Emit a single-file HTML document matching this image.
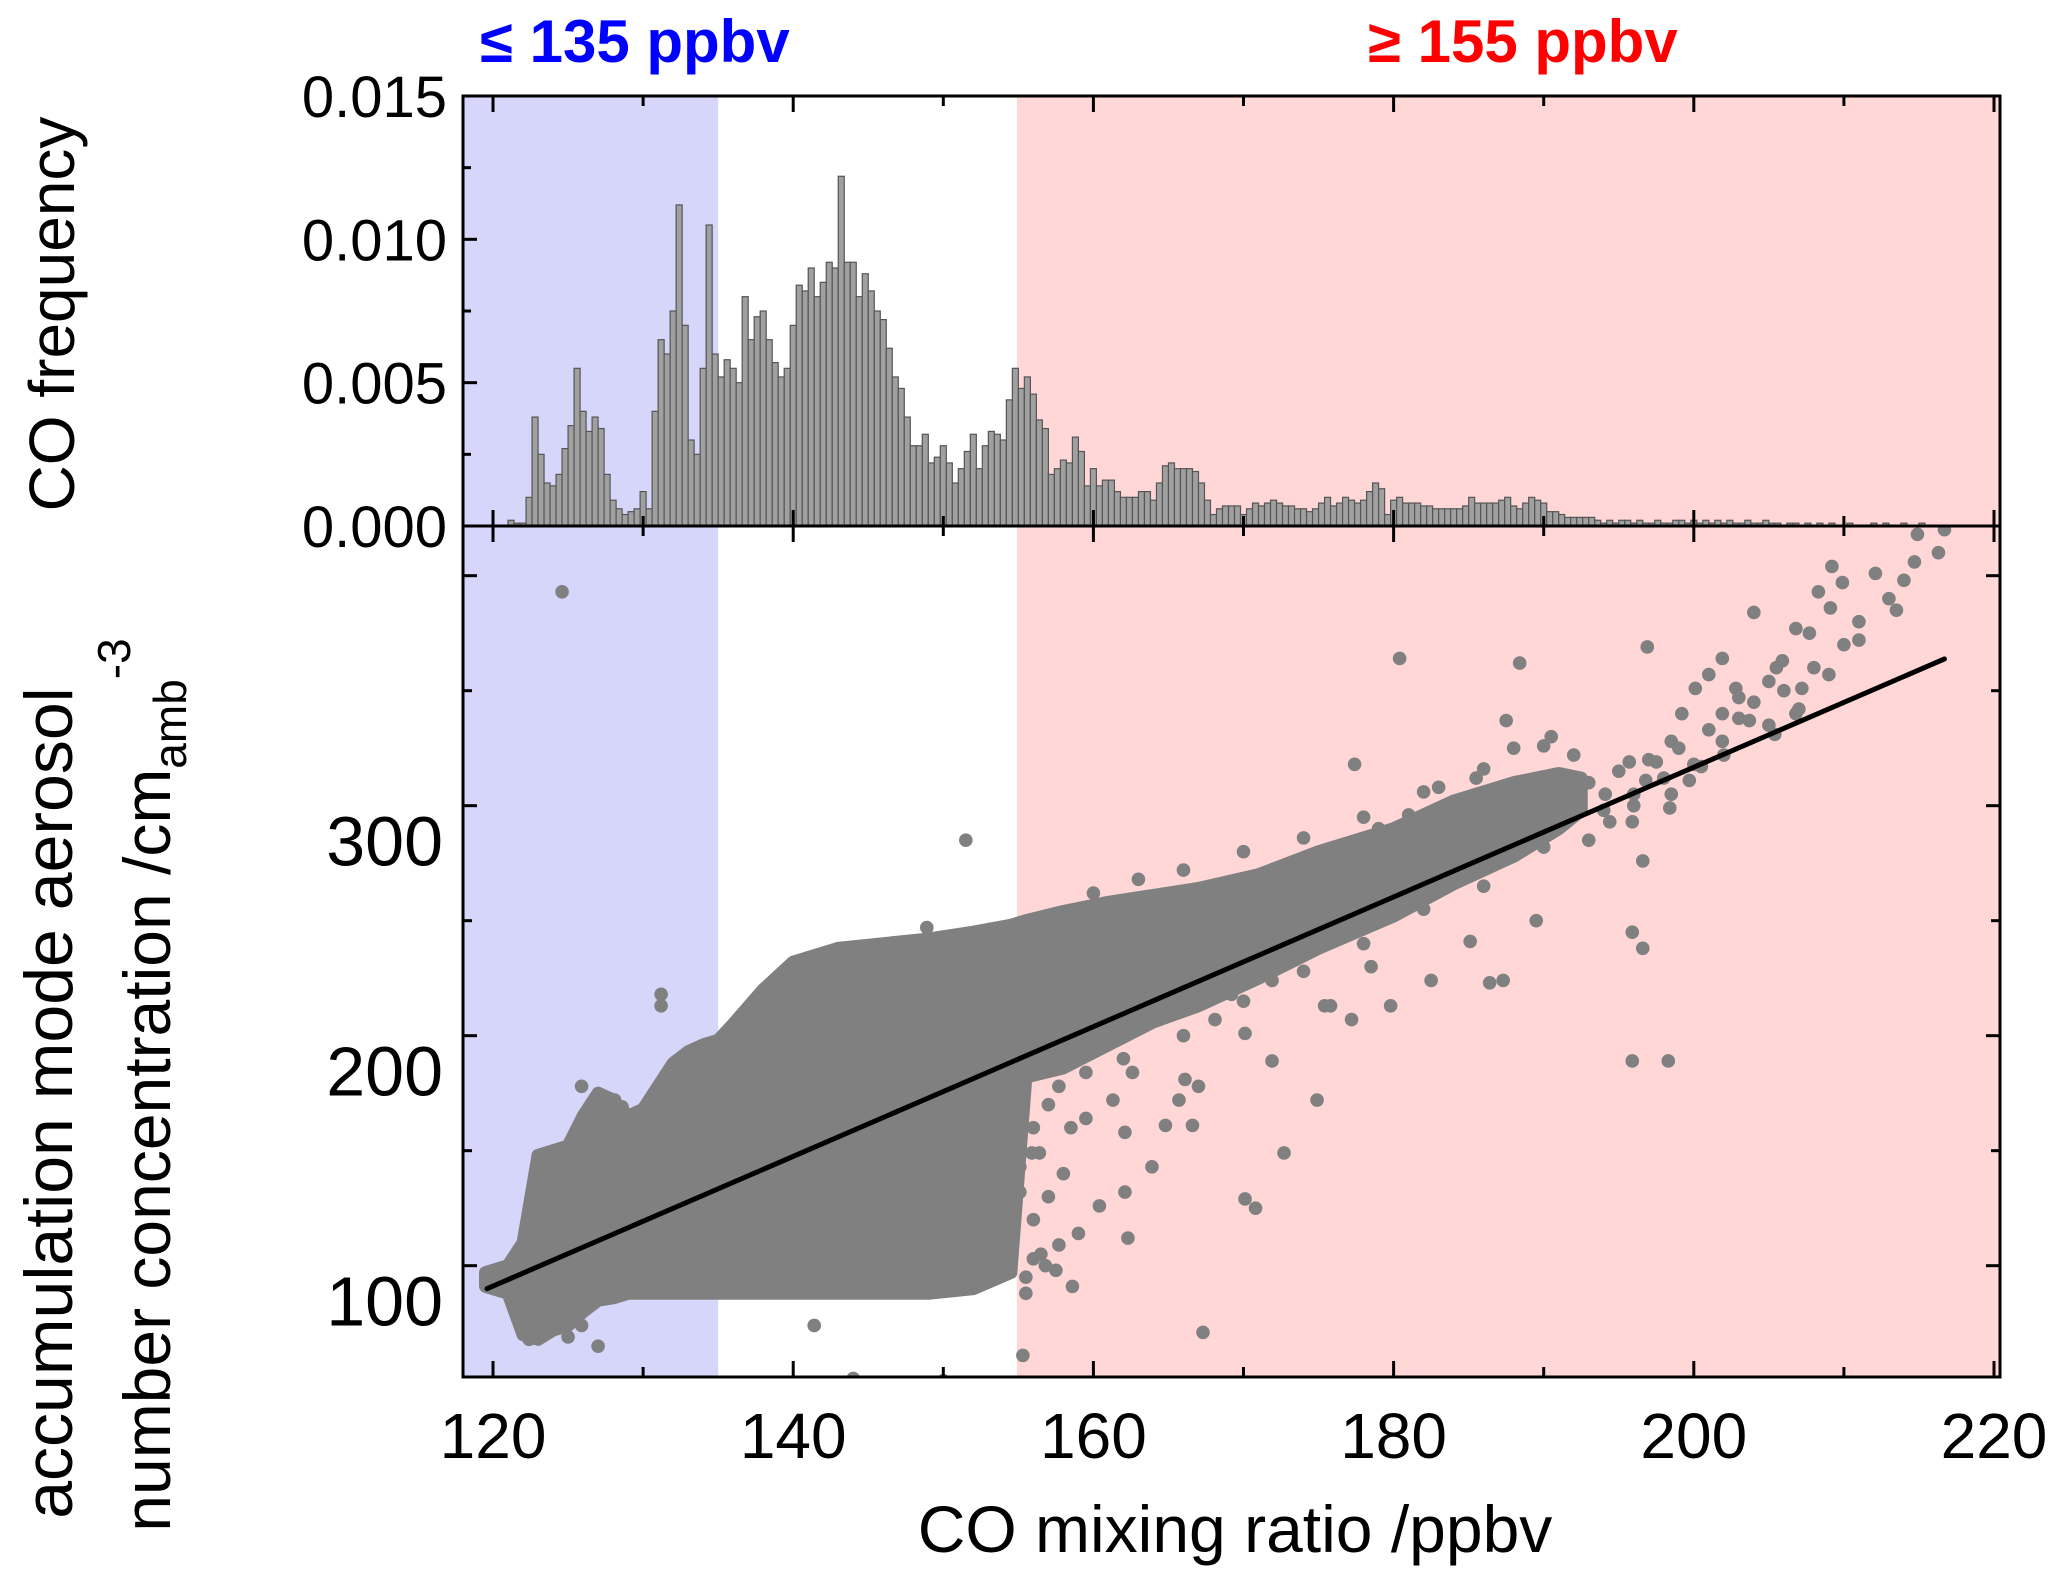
<!DOCTYPE html>
<html><head><meta charset="utf-8"><style>
html,body{margin:0;padding:0;background:#fff;}
svg{display:block;font-family:"Liberation Sans",Arial,sans-serif;}
</style></head><body>
<div style="position:relative;width:2067px;height:1575px">
<svg id="chart" width="2067" height="1575" viewBox="0 0 2067 1575" xmlns="http://www.w3.org/2000/svg" style="position:absolute;left:0;top:0">
<g id="bg"></g><g id="hist"></g><g id="scatter"></g><g id="axes"></g><g id="labels"></g>
</svg>
<svg width="2067" height="1575" style="position:absolute;left:0;top:0" font-family="Liberation Sans, Arial, sans-serif">
  <text x="480" y="62" font-size="60" font-weight="bold" fill="#0000ff">≤ 135 ppbv</text>
  <text x="1368" y="62" font-size="60" font-weight="bold" fill="#ff0000">≥ 155 ppbv</text>
  <text x="1235" y="1552" font-size="66" text-anchor="middle">CO mixing ratio /ppbv</text>
  <text transform="translate(74,314) rotate(-90)" font-size="64" text-anchor="middle">CO frequency</text>
  <text transform="translate(72,1103) rotate(-90)" font-size="68" text-anchor="middle">accumulation mode aerosol</text>
  <text transform="translate(170,1085) rotate(-90)" font-size="66" text-anchor="middle">number concentration /cm<tspan font-size="46" dy="16">amb</tspan><tspan font-size="46" dy="-56">-3</tspan></text>
</svg>
</div>
<script>
// ---- data ----
const histStart = 121.0;
const histBinWidth = 0.4;
const histValues = [ // units of 1e-4
2,1,1,10,38,25,15,14,18,27,35,55,40,33,38,34,18,9,6,4,5,6,12,6,40,65,60,75,112,70,30,25,55,105,60,52,58,55,50,80,65,73,75,65,57,52,55,70,84,82,90,80,85,92,90,122,92,92,80,88,82,75,72,62,52,48,38,28,28,32,22,24,28,22,15,20,26,32,20,28,33,32,
30,44,55,48,52,46,37,34,18,20,23,22,31,26,14,20,14,16,16,12,10,10,10,12,12,9,15,21,22,20,20,20,19,15,9,4,6,7,7,7,4,6,8,7,8,9,8,7,7,6,6,5,6,8,10,7,8,10,9,8,9,12,15,13,4,9,10,8,8,8,7,7,6,6,6,6,6,7,10,8,8,8,8,9,10,7,6,8,10,9,8,5,5,4,3,3,3,3,3,2,1,2,1,2,2,1,2,1,1,2,1,1,2,2,1,2,1,2,1,2,1,2,1,1,2,1,1,2,1,1,0,1,1,0,1,0,1,0,1,0,0,1,0,0,0,1,0,1,0,0,1,0,0,1,0,0];
const histTicks = [0, 0.005, 0.010, 0.015];
const histTickLabels = ["0.000","0.005","0.010","0.015"];
const xTicks = [120,140,160,180,200,220];
const yTicks = [100,200,300];
const envX    = [119.5,121,122,123,124,125,126,127,128,129,130,131,132,133,134,135,136,138,140,143,146,149,152,154.5,155.5,158,161,164,167,171,175,180,184,188,191,192.5];
const envHigh = [97,100,110,148,150,152,165,175,172,165,168,178,188,193,196,198,205,220,232,238,240,242,245,248,250,254,258,261,264,270,280,290,302,310,314,312];
const envLow  = [91,88,70,68,72,74,80,85,86,88,88,88,88,88,88,88,88,88,88,88,88,88,90,97,182,186,196,206,213,225,238,252,266,278,290,298];
const ptsX = [124.6,151.5,141.4,144,150,155.3,167.3,195.9,196.6,195.9,198.3,196.9,180.4,188.4,177.4,187.5,204,209.2,212.1,214.7,216.3,216.7,214.9,209.9,209.1,207.7,206.8,208.3,201.9,201,200.1,202.8,205,205.9,207.2,201.9,203.7,205.4,206.8,199.2,198.5,197.5,195.7,196.8,200.5,198.5,194.1,209,201.9,199.7,194.4,193,196.6,198.4,195.9,
175.4,174,171.9,170.1,178.5,177.2,175.8,179.8,182.5,185.1,187.3,186.4,189.5,174.9,172.7,170.1,170.8,166.6,165.7,164.8,163.9,167,166.1,162.1,162.3,160.4,159,157.7,155.9,156.8,158.6,162.1,161.3,159.5,162.6,170.1,168.1,169.2,171.9,175.4,155.5,154.2,155.1,155.1,156.4,157.7,159.5,
150.7,149,152,154.2,148,147.1,144.9,148.9,131.2,131.2,125.9,128.1,128.6,133.9,134.8,136.1,137,138.7,125,122.4,127,125.9,156,196,192,190.5,188,185.5,183,181,179,177,211,213.5,203,205.5,
192,193,194,195,196,197,198,199,200,201,202,203,204,205,206,207,208,210,211,213,214,
155.5,156,156.5,157,157.5,158,156,157,158.5,
160,163,166,170,174,178,182,186,190,162,166,170,174,178,182,186,190];
const ptsY = [393,285,74,51,50,61,71,245,238,189,189,369,364,362,318,337,384,404,401,406,410,420,418,397,386,375,377,393,364,357,351,351,354,363,351,340,337,331,340,340,328,319,319,311,317,305,305,357,328,311,293,285,276,299,293,
259,236,224,233,230,207,213,213,224,241,224,223,250,172,149,129,125,161,172,161,143,178,181,132,112,126,114,109,149,100,91,158,172,184,184,201,207,218,189,213,88,103,132,143,149,178,164,
239,236,233,239,236,230,233,247,218,213,178,172,169,190,192,184,195,201,69,68,65,74,103,300,322,330,325,312,308,296,290,282,372,385,347,360,
300,310,298,315,305,320,312,325,318,333,322,338,345,335,350,342,360,370,380,390,398,
95,120,105,130,98,140,160,170,160,
262,268,272,280,286,295,306,316,326,190,200,215,228,240,255,265,282];
const fitX = [119.6, 216.7];
const fitY = [90, 363.8];

// ---- layout ----
const L=463, R=2000, T=96, M=526, B=1377;
const xMin=118, xMax=220.4;
const sx = v => L + (v - xMin)/(xMax - xMin)*(R-L);
const hy = v => M - v/0.015*(M-T);
const yMin=51.6, yMax=421.6;
const sy = v => B - (v - yMin)/(yMax - yMin)*(B-M);
const NS="http://www.w3.org/2000/svg";
function mk(tag, attrs, parent){const e=document.createElementNS(NS,tag);for(const k in attrs)e.setAttribute(k,attrs[k]);parent.appendChild(e);return e;}

// ---- background regions ----
const bg=document.getElementById('bg');
let r1=mk('rect',{x:L,y:T,width:sx(135)-L,height:B-T,fill:'#d6d6fa'},bg);


let r2=mk('rect',{x:sx(154.9),y:T,width:R-sx(154.9),height:B-T,fill:'#ffd7d7'},bg);



// ---- histogram ----
const hg=document.getElementById('hist');
histValues.forEach((v,i)=>{
  const x0=sx(histStart+i*histBinWidth), x1=sx(histStart+(i+1)*histBinWidth);
  const y=hy(v*1e-4);
  const b=mk('rect',{x:x0,y:y,width:Math.max(x1-x0,0.5),height:M-y,fill:'#a0a0a0',stroke:'#555','stroke-width':1.2},hg);
  
  
});

// ---- scatter ----
const sg=document.getElementById('scatter');
const clip=mk('clipPath',{id:'bclip'},sg);
mk('rect',{x:L,y:M,width:R-L,height:B-M},clip);
const sgi=mk('g',{'clip-path':'url(#bclip)'},sg);
let d='M'+envX.map((x,i)=>sx(x)+','+sy(envHigh[i])).join(' L');
for(let i=envX.length-1;i>=0;i--) d+=' L'+sx(envX[i])+','+sy(envLow[i]);
d+=' Z';
const env=mk('path',{d:d,fill:'#808080',stroke:'#808080','stroke-width':13,'stroke-linejoin':'round'},sgi);


ptsX.forEach((x,i)=>{
  const c=mk('circle',{cx:sx(x),cy:sy(ptsY[i]),r:6.8,fill:'#808080'},sgi);
  
  
});
const fl=mk('line',{x1:sx(fitX[0]),y1:sy(fitY[0]),x2:sx(fitX[1]),y2:sy(fitY[1]),stroke:'#000','stroke-width':5,'stroke-linecap':'round'},sg);



// ---- axes ----
const ax=document.getElementById('axes');
const fr1=mk('rect',{x:L,y:T,width:R-L,height:M-T,fill:'none',stroke:'#000','stroke-width':3},ax);


const fr2=mk('rect',{x:L,y:M,width:R-L,height:B-M,fill:'none',stroke:'#000','stroke-width':3},ax);


const lb=document.getElementById('labels');
function txt(s,x,y,size,anchor){const t=mk('text',{x:x,y:y,'font-size':size,'text-anchor':anchor,fill:'#000'},lb);t.textContent=s;return t;}
for(let v=120; v<=220; v+=10){
  const major = v%20===0;
  const len = major?16:10;
  const x=sx(v);
  mk('line',{x1:x,y1:B,x2:x,y2:B-len,stroke:'#000','stroke-width':3},ax);
  mk('line',{x1:x,y1:M,x2:x,y2:M+len,stroke:'#000','stroke-width':3},ax);
  mk('line',{x1:x,y1:M,x2:x,y2:M-len,stroke:'#000','stroke-width':3},ax);
  mk('line',{x1:x,y1:T,x2:x,y2:T+len,stroke:'#000','stroke-width':3},ax);
}
xTicks.forEach(v=>{
  const t=txt(String(v),sx(v),1458,64,'middle');
  
  
});
for(let k=0;k<=6;k++){
  const v=k*0.0025, y=hy(v), len=(k%2===0)?14:8;
  mk('line',{x1:L,y1:y,x2:L+len,y2:y,stroke:'#000','stroke-width':3},ax);
}
histTicks.forEach((v,i)=>{
  const t=txt(histTickLabels[i],447,hy(v)+21,58,'end');
  
  
});
for(let v=100; v<=400; v+=50){
  const y=sy(v), len=(v%100===0)?14:9;
  mk('line',{x1:L,y1:y,x2:L+len,y2:y,stroke:'#000','stroke-width':3},ax);
  mk('line',{x1:R,y1:y,x2:R-len,y2:y,stroke:'#000','stroke-width':3},ax);
}
yTicks.forEach(v=>{
  const t=txt(String(v),443,sy(v)+60,70,'end');
  
  
});
</script>
</body></html>
